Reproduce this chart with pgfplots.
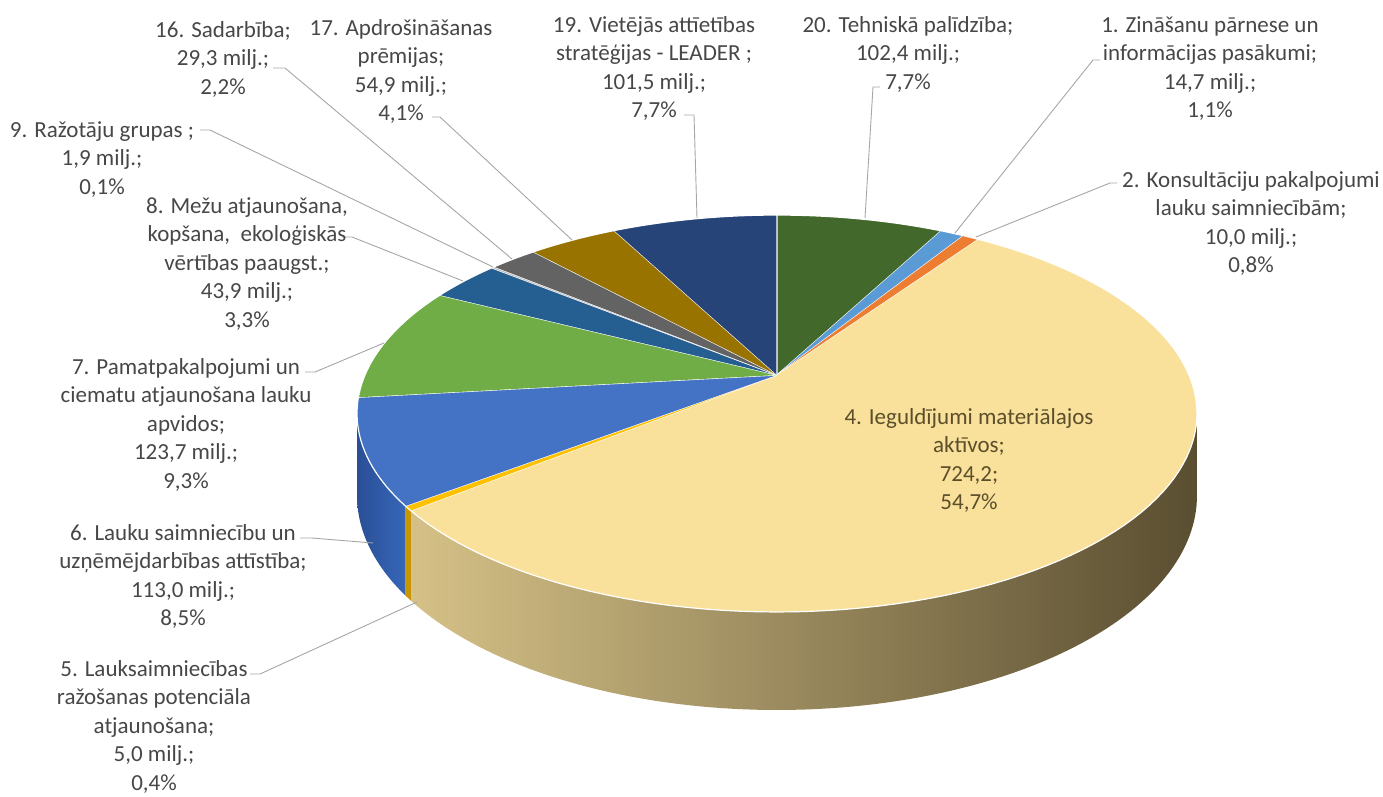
\documentclass[border=0pt]{standalone}
\usepackage{fontspec}
\setmainfont{Carlito}
\usepackage{pgfplots}
\usepackage{pgfplotstable}
\pgfplotsset{compat=1.18}

\definecolor{col0}{HTML}{43682B}
\definecolor{col1}{HTML}{5B9BD5}
\definecolor{col2}{HTML}{ED7D31}
\definecolor{col3}{HTML}{F9E19B}
\definecolor{col4}{HTML}{FFC000}
\definecolor{col5}{HTML}{4472C4}
\definecolor{col6}{HTML}{70AD47}
\definecolor{col7}{HTML}{255E91}
\definecolor{col8}{HTML}{BFBFBF}
\definecolor{col9}{HTML}{636363}
\definecolor{col10}{HTML}{997300}
\definecolor{col11}{HTML}{264478}
\definecolor{lbl}{HTML}{474747}
\definecolor{lblin}{HTML}{5B4E2B}
\definecolor{leadc}{HTML}{A6A6A6}
\definecolor{wallL}{HTML}{D5C187}
\definecolor{wallM}{HTML}{8C7A4F}
\definecolor{wallR}{HTML}{5A4E31}
\definecolor{goldwall}{HTML}{C89600}
\definecolor{blueL}{HTML}{2A4F96}
\definecolor{blueR}{HTML}{3767B8}

% slices clockwise from 12 o'clock (values in milj. EUR)
\pgfplotstableread{
id value
20 102.4
1 14.7
2 10.0
4 724.2
5 5.0
6 113.0
7 123.7
8 43.9
9 1.9
16 29.3
17 54.9
19 101.5
}\slices

\pgfplotstablegetrowsof{\slices}
\pgfmathtruncatemacro\lastrow{\pgfplotsretval-1}
\gdef\slicetotal{0}
\foreach \i in {0,...,\lastrow}{%
  \pgfplotstablegetelem{\i}{value}\of\slices
  \pgfmathparse{\slicetotal+\pgfplotsretval}%
  \xdef\slicetotal{\pgfmathresult}%
}
\gdef\slicecum{0}
\foreach \i in {0,...,\lastrow}{%
  \pgfplotstablegetelem{\i}{value}\of\slices
  \pgfmathparse{90-360*(\slicecum/\slicetotal)}%
  \expandafter\xdef\csname tA\i\endcsname{\pgfmathresult}%
  \pgfmathparse{\slicecum+\pgfplotsretval}%
  \xdef\slicecum{\pgfmathresult}%
  \pgfmathparse{90-360*(\slicecum/\slicetotal)}%
  \expandafter\xdef\csname tB\i\endcsname{\pgfmathresult}%
}
\newcommand\getang[3]{%
  \expandafter\let\expandafter#1\csname tA#3\endcsname
  \expandafter\let\expandafter#2\csname tB#3\endcsname}

\begin{document}
\begin{tikzpicture}[
  lab/.style={font=\fontsize{23}{28.5}\selectfont, align=center, inner sep=0pt, text=lbl, anchor=north},
  leader/.style={leadc, line width=0.9pt, mark=none},
]
\begin{axis}[
  width=1383pt, height=796pt, scale only axis,
  xmin=0, xmax=1383, ymin=0, ymax=796, y dir=reverse,
  hide axis, clip=false,
  declare function={
    PX(\t,\r)=777+\r*412*cos(\t)/(1+0.194*\r*sin(\t));
    PY(\t,\r)=375-\r*191*sin(\t)/(1+0.194*\r*sin(\t));
    PD(\t)=79/(1+0.194*sin(\t));
    TT(\s,\a,\b)=\a+min(\s,1)*(\b-\a);
    RR(\s)=(\s<1.005);
    TW(\s,\a,\b)=(\s<0.995)*(\a+min(\s/0.98,1)*(\b-\a))+(\s>0.995)*(\b+max((\s-1.02)/0.98,0)*(\a-\b));
  },
]
% ---- side walls (front) ----
\getang\A\B{3}
\pgfmathsetmacro\wa{min(\A,-11.19)}
\pgfmathsetmacro\wb{max(\B,-168.81)}
\addplot[draw=none, left color=wallL, middle color=wallM, right color=wallR, domain=0:2, samples=201]
  ({PX(TW(x,\wa,\wb),1)},{PY(TW(x,\wa,\wb),1)+(x>0.995)*PD(TW(x,\wa,\wb))});
\getang\A\B{4}
\pgfmathsetmacro\wa{min(\A,-11.19)}
\pgfmathsetmacro\wb{max(\B,-168.81)}
\addplot[draw=none, fill=goldwall, domain=0:2, samples=201]
  ({PX(TW(x,\wa,\wb),1)},{PY(TW(x,\wa,\wb),1)+(x>0.995)*PD(TW(x,\wa,\wb))});
\getang\A\B{5}
\pgfmathsetmacro\wa{min(\A,-11.19)}
\pgfmathsetmacro\wb{max(\B,-168.81)}
\addplot[draw=none, left color=blueL, right color=blueR, domain=0:2, samples=201]
  ({PX(TW(x,\wa,\wb),1)},{PY(TW(x,\wa,\wb),1)+(x>0.995)*PD(TW(x,\wa,\wb))});
% ---- top faces ----
\pgfplotsinvokeforeach{0,...,11}{
  \getang\A\B{#1}
  \addplot[fill=col#1, draw=white, line width=1.2pt, line join=round, domain=0:1.05, samples=106]
    ({PX(TT(x,\A,\B),RR(x))},{PY(TT(x,\A,\B),RR(x))});
}
% ---- leader lines ----
\addplot[leader] coordinates {(880,87) (873,87) (865,218)};
\addplot[leader] coordinates {(1100,60) (1093,60) (955,233)};
\addplot[leader] coordinates {(1117,183) (1110,183) (976,237)};
\addplot[leader] coordinates {(684,115) (694,115) (697,218)};
\addplot[leader] coordinates {(432,117) (440,117) (572,240)};
\addplot[leader] coordinates {(273,68) (285,68) (512,259)};
\addplot[leader] coordinates {(200,130) (210,130) (493,267)};
\addplot[leader] coordinates {(342,237) (352,237) (463,281)};
\addplot[leader] coordinates {(305,372) (315,372) (384,343)};
\addplot[leader] coordinates {(300,538) (312,538) (373,543)};
\addplot[leader] coordinates {(250,674) (260,674) (417,602)};
% ---- labels ----
\node[lab] at (axis cs:908,16) {20. Tehniskā palīdzība;\\102,4 milj.;\\7,7\%};
\node[lab] at (axis cs:1210,16) {1. Zināšanu pārnese un\\informācijas pasākumi;\\14,7 milj.;\\1,1\%};
\node[lab] at (axis cs:1251,171) {2. Konsultāciju pakalpojumi\\lauku saimniecībām;\\10,0 milj.;\\0,8\%};
\node[lab] at (axis cs:654,16) {19. Vietējās attīetības\\stratēģijas - LEADER ;\\101,5 milj.;\\7,7\%};
\node[lab] at (axis cs:401,19) {17. Apdrošināšanas\\prēmijas;\\54,9 milj.;\\4,1\%};
\node[lab] at (axis cs:223,21) {16. Sadarbība;\\29,3 milj.;\\2,2\%};
\node[lab] at (axis cs:102,121) {9. Ražotāju grupas ;\\1,9 milj.;\\0,1\%};
\node[lab] at (axis cs:247,197) {8. Mežu atjaunošana,\\kopšana,\ \ ekoloģiskās\\vērtības paaugst.;\\43,9 milj.;\\3,3\%};
\node[lab] at (axis cs:186,358) {7. Pamatpakalpojumi un\\ciematu atjaunošana lauku\\apvidos;\\123,7 milj.;\\9,3\%};
\node[lab] at (axis cs:183,524) {6. Lauku saimniecību un\\uzņēmējdarbības attīstība;\\113,0 milj.;\\8,5\%};
\node[lab] at (axis cs:154,660) {5. Lauksaimniecības\\ražošanas potenciāla\\atjaunošana;\\5,0 milj.;\\0,4\%};
\node[lab, text=lblin] at (axis cs:969,408) {4. Ieguldījumi materiālajos\\aktīvos;\\724,2;\\54,7\%};
\end{axis}
\pgfresetboundingbox
\path[use as bounding box] (0,0) rectangle (1383pt,796pt);
\end{tikzpicture}
\end{document}
